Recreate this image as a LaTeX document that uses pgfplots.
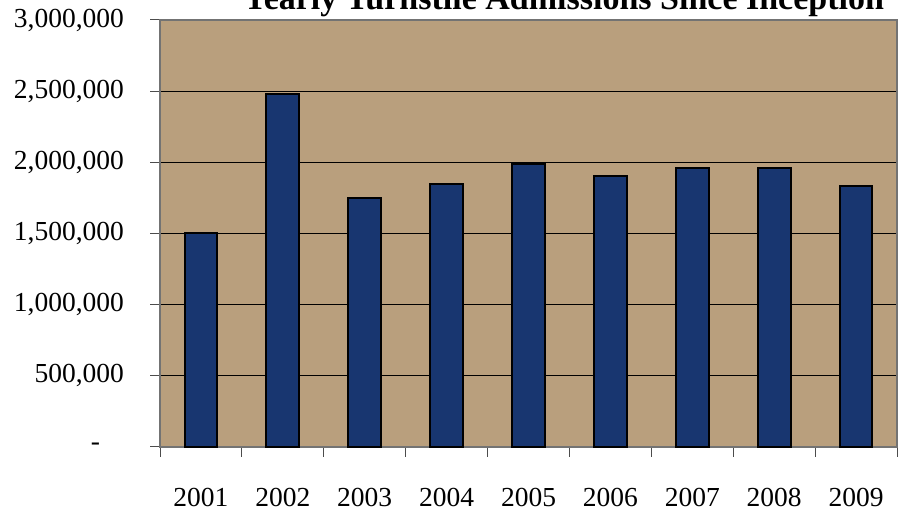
\documentclass[border=0pt]{standalone}
\usepackage{fontspec}
\setmainfont{Liberation Serif}
\usepackage{pgfplots}
\pgfplotsset{compat=1.18}
\definecolor{plotbg}{RGB}{185,159,125}
\definecolor{barblue}{RGB}{24,54,112}
\begin{document}
\begin{tikzpicture}
\begin{axis}[
    at={(80pt,32.5pt)}, anchor=south west,
    scale only axis, width=368.5pt, height=213.5pt,
    xmin=-0.5, xmax=8.5,
    ymin=0, ymax=3000000,
    scaled y ticks=false,
    axis background/.style={fill=plotbg},
    axis line style={draw=gray!90!black, line width=0.9pt},
    tick align=outside,
    xtick pos=bottom, ytick pos=left,
    major tick length=5pt,
    tick style={gray!60!black, line width=0.5pt},
    ytick={0,500000,1000000,1500000,2000000,2500000,3000000},
    yticklabels={{-\hspace*{12pt}},{500,000},{1,000,000},{1,500,000},{2,000,000},{2,500,000},{3,000,000}},
    ymajorgrids, major grid style={black, line width=0.5pt},
    xtick={-0.5,0.5,...,8.5}, xticklabels={},
    extra x ticks={0,1,2,3,4,5,6,7,8},
    extra x tick labels={2001,2002,2003,2004,2005,2006,2007,2008,2009},
    extra x tick style={major tick length=0pt, grid=none},
    tick label style={font=\fontsize{13.75}{16}\selectfont},
    xticklabel style={yshift=-17pt},
    yticklabel style={xshift=-9.5pt},
    /pgf/number format/assume math mode=true,
    clip=false,
]
\addplot[ybar, bar width=0.4, fill=barblue, draw=black, line width=1pt]
  coordinates {(0,1500000) (1,2483000) (2,1747000) (3,1845000) (4,1986000)
               (5,1904000) (6,1957000) (7,1957000) (8,1833000)};
\end{axis}
\node[anchor=base, font=\bfseries\fontsize{17}{20}\selectfont] at (281.75pt,251pt)
  {Yearly Turnstile Admissions Since Inception};
\pgfresetboundingbox
\useasboundingbox (0,0) rectangle (449pt,256pt);
\end{tikzpicture}
\end{document}
